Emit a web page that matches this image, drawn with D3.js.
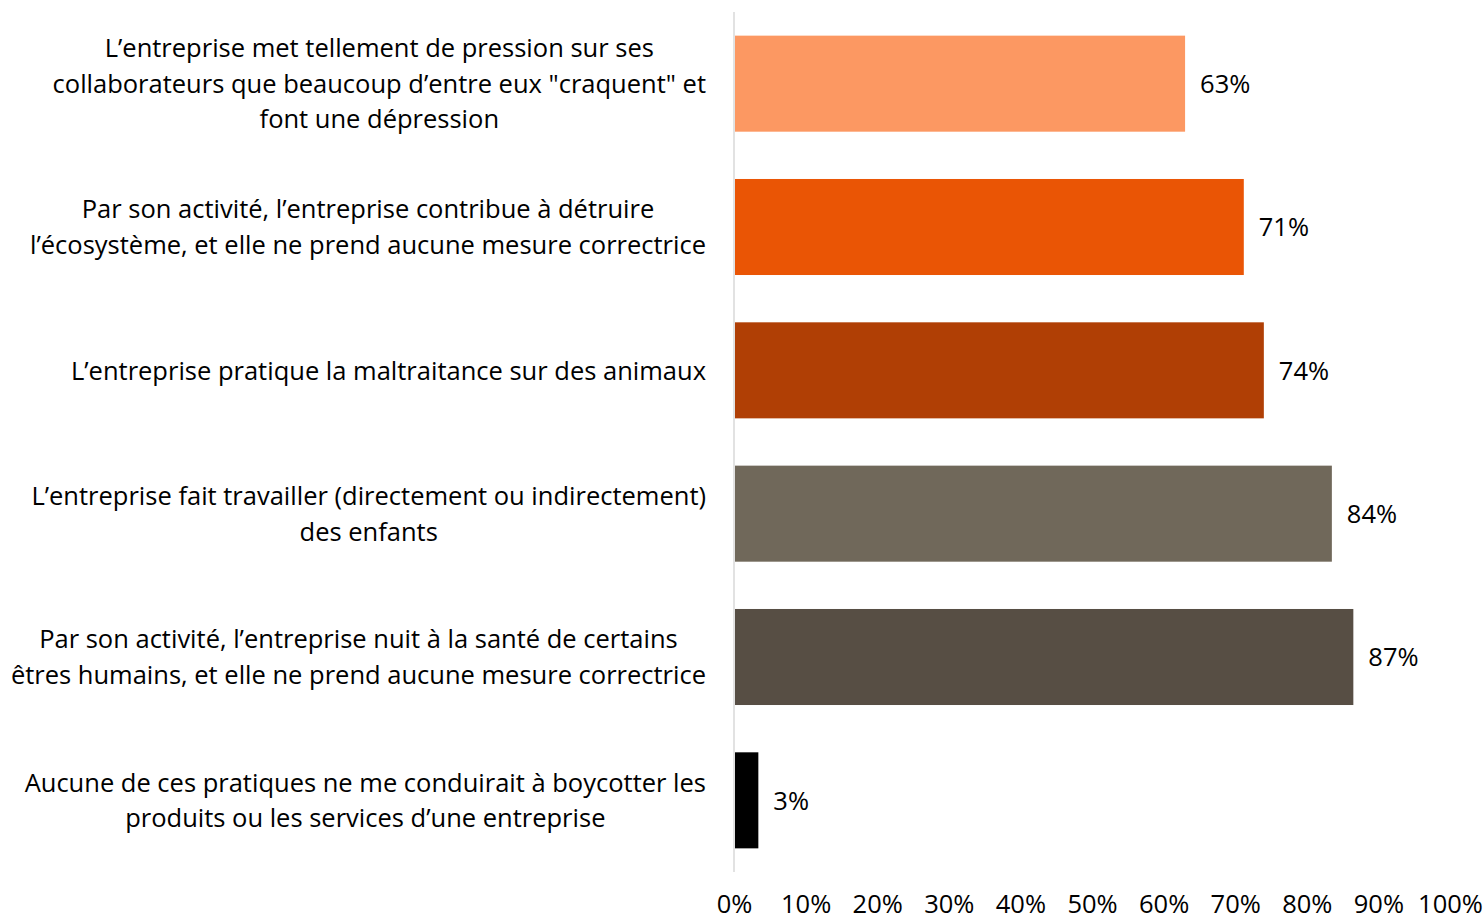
<!DOCTYPE html>
<html><head><meta charset="utf-8">
<script src="https://cdn.jsdelivr.net/npm/d3@7/dist/d3.min.js"></script>
<style>body{margin:0;background:#fff}svg{display:block}</style>
</head><body>
<svg id="c" width="1484" height="919"></svg>
<script>
const categories = [
  "L’entreprise met tellement de pression sur ses|collaborateurs que beaucoup d’entre eux \"craquent\" et|font une dépression",
  "Par son activité, l’entreprise contribue à détruire|l’écosystème, et elle ne prend aucune mesure correctrice",
  "L’entreprise pratique la maltraitance sur des animaux",
  "L’entreprise fait travailler (directement ou indirectement)|des enfants",
  "Par son activité, l’entreprise nuit à la santé de certains|êtres humains, et elle ne prend aucune mesure correctrice",
  "Aucune de ces pratiques ne me conduirait à boycotter les|produits ou les services d’une entreprise"
];
const values = [63, 71.2, 74, 83.5, 86.5, 3.4];
const colors = ["#FC9862", "#EA5505", "#B03F05", "#70685A", "#574E44", "#000000"];
const tickValues = [0,10,20,30,40,50,60,70,80,90,100];

const FONT = "'Open Sans', sans-serif";
const FS = 25.5;
const svg = d3.select("#c");
const x = d3.scaleLinear().domain([0,100]).range([734,1450]);
const y = d3.scaleBand().domain(d3.range(categories.length)).range([12,872]).paddingInner(0.33).paddingOuter(0.165);

svg.append("g").selectAll("rect").data(values).join("rect")
  .attr("x", x(0)+1).attr("y",(d,i)=>y(i)).attr("height",y.bandwidth())
  .attr("width", d=>x(d)-x(0)-1).attr("fill",(d,i)=>colors[i]);

svg.append("line").attr("x1",x(0)).attr("x2",x(0)).attr("y1",12).attr("y2",872)
  .attr("stroke","#d9d9d9").attr("stroke-width",1.5);

svg.append("g").selectAll("text").data(values).join("text")
  .attr("x", d=>x(d)+15).attr("y",(d,i)=>y(i)+y.bandwidth()/2).attr("dy","0.36em")
  .attr("font-family",FONT).attr("font-size",FS).attr("fill","#000")
  .text(d=>Math.round(d)+"%");

const lh = 35.5;
const lg = svg.append("g");
categories.forEach((c,i)=>{
  const lines = c.split("|");
  const t = lg.append("text").attr("font-family",FONT).attr("font-size",FS).attr("fill","#000")
    .attr("text-anchor","middle");
  const cy = y(i)+y.bandwidth()/2;
  lines.forEach((l,k)=>{
    t.append("tspan").attr("y", cy + (k-(lines.length-1)/2)*lh).attr("dy","0.36em").text(l);
  });
  let w = 0;
  t.selectAll("tspan").each(function(){ w = Math.max(w, this.getComputedTextLength()); });
  t.selectAll("tspan").attr("x", 706 - w/2);
});

const ax = d3.axisBottom(x).tickValues(tickValues).tickFormat(d=>d+"%").tickSize(0).tickPadding(0);
const ag = svg.append("g").attr("transform","translate(0,913)").call(ax);
ag.select(".domain").remove();
ag.selectAll("text").attr("dy",0).attr("font-family",FONT).attr("font-size",FS).attr("fill","#000");
</script>
</body></html>
